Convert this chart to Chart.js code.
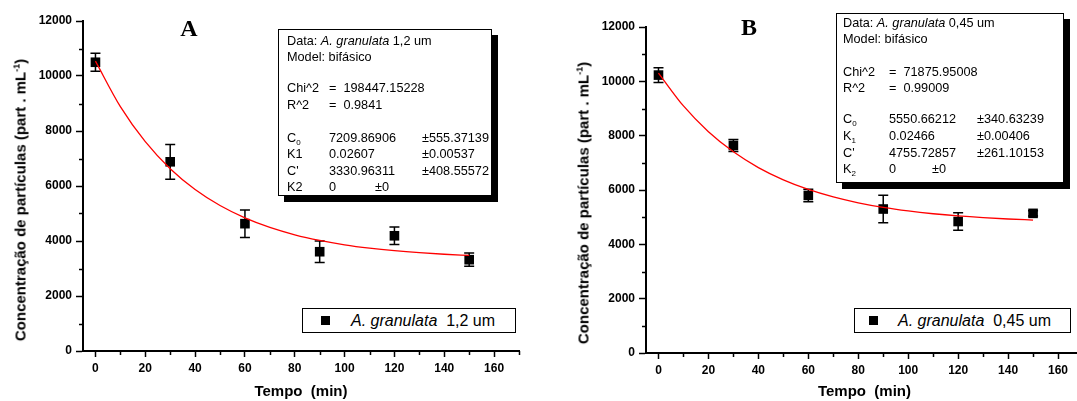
<!DOCTYPE html>
<html><head><meta charset="utf-8">
<script src="https://cdn.jsdelivr.net/npm/chart.js@4.4.0/dist/chart.umd.min.js"></script>
<style>
html,body{margin:0;padding:0;background:#fff;}
#wrap{position:relative;width:1077px;height:401px;overflow:hidden;font-family:"Liberation Sans",Arial,sans-serif;color:#000;}
canvas{position:absolute;top:0;}
.box{position:absolute;background:#fff;border:1px solid #000;box-sizing:border-box;}
.shadow{box-shadow:6px 6px 0 #000;}
.t{position:absolute;font-size:12.7px;line-height:1;white-space:nowrap;transform:translateY(-50%);}
.lg{position:absolute;font-size:16px;line-height:1;white-space:nowrap;transform:translateY(-50%);}
.mk{position:absolute;width:9px;height:9px;background:#000;}
.letter{position:absolute;font-family:"Liberation Serif","Times New Roman",serif;font-weight:bold;font-size:24px;line-height:1;transform:translate(-50%,-50%);}
.ytitle{position:absolute;font-weight:bold;font-size:15px;line-height:1;white-space:nowrap;transform:translate(-50%,-50%) rotate(-90deg);}
sub{font-size:8px;vertical-align:-3px;line-height:0;}
sup{font-size:9px;vertical-align:6px;line-height:0;}
</style>
</head><body>
<div id="wrap">
<canvas id="cA" width="538" height="401" style="left:0;width:538px;height:401px"></canvas>
<canvas id="cB" width="560" height="401" style="left:538px;width:560px;height:401px"></canvas>
</div>
<script>
// ---------- data ----------
const times = [0, 30, 60, 90, 120, 150];
const valuesA = [10500, 6880, 4630, 3610, 4190, 3320];
const errorsA = [325, 630, 500, 390, 320, 240];
const valuesB = [10230, 7640, 5800, 5300, 4840, 5140];
const errorsB = [270, 220, 230, 510, 320, 100];
const fitTimes = [0, 10, 20, 30, 40, 50, 60, 70, 80, 90, 100, 110, 120, 130, 140, 150];
const fitA = [10541, 8886, 7611, 6629, 5872, 5289, 4840, 4493, 4226, 4021, 3862, 3741, 3647, 3574, 3518, 3475];
const fitB = [10306, 9094, 8146, 7405, 6826, 6374, 6020, 5744, 5528, 5359, 5228, 5125, 5044, 4981, 4932, 4894];
const xTicks = [0, 20, 40, 60, 80, 100, 120, 140, 160];
const yTicks = [0, 2000, 4000, 6000, 8000, 10000, 12000];
const xMinorTicks = [10, 30, 50, 70, 90, 110, 130, 150, 170];
const yMinorTicks = [1000, 3000, 5000, 7000, 9000, 11000];
const xTitle = 'Tempo  (min)';
const yTitle = 'Concentração de partículas  (part . mL<sup>-1</sup>)';
const legendA = ['A. granulata', '1,2 um'];
const legendB = ['A. granulata', '0,45 um'];

// ---------- plugin: error bars + minor ticks ----------
const extras = {
  id: 'extras',
  beforeDatasetsDraw(chart, args, o) {
    const {ctx, scales: {x, y}} = chart;
    ctx.save();
    ctx.strokeStyle = '#000';
    ctx.lineWidth = 1.5;
    o.vals.forEach((v, i) => {
      const px = x.getPixelForValue(o.times[i]);
      const t = y.getPixelForValue(v + o.errs[i]);
      const b = y.getPixelForValue(v - o.errs[i]);
      ctx.beginPath();
      ctx.moveTo(px, t); ctx.lineTo(px, b);
      ctx.moveTo(px - 5, t); ctx.lineTo(px + 5, t);
      ctx.moveTo(px - 5, b); ctx.lineTo(px + 5, b);
      ctx.stroke();
    });
    ctx.restore();
  },
  afterDraw(chart) {
    const {ctx, scales: {x, y}, chartArea} = chart;
    ctx.save();
    ctx.strokeStyle = '#000';
    ctx.lineWidth = 1.5;
    ctx.beginPath();
    yMinorTicks.forEach(v => {
      const py = Math.round(y.getPixelForValue(v)) + 0.5;
      ctx.moveTo(chartArea.left - 4, py); ctx.lineTo(chartArea.left, py);
    });
    xMinorTicks.forEach(v => {
      const px = Math.round(x.getPixelForValue(v)) + 0.5;
      ctx.moveTo(px, chartArea.bottom); ctx.lineTo(px, chartArea.bottom + 4);
    });
    ctx.stroke();
    ctx.restore();
  }
};

function makeChart(id, vals, errs, fit, pad, yWidth, xHeight) {
  const tickFont = {family: '"Liberation Sans", Arial, sans-serif', size: 12, weight: 'bold', lineHeight: 1.2};
  return new Chart(document.getElementById(id), {
    type: 'scatter',
    data: {
      datasets: [
        {
          data: times.map((t, i) => ({x: t, y: vals[i]})),
          pointStyle: 'rect', pointRadius: 6.8, pointHoverRadius: 6.8,
          backgroundColor: '#000', borderColor: '#000', borderWidth: 0, order: 2
        },
        {
          data: fitTimes.map((t, i) => ({x: t, y: fit[i]})),
          showLine: true, pointRadius: 0, borderColor: '#ff0000', borderWidth: 1.3,
          cubicInterpolationMode: 'monotone', fill: false, order: 1
        }
      ]
    },
    options: {
      responsive: false, animation: false, devicePixelRatio: 1,
      layout: {padding: pad},
      plugins: {legend: {display: false}, tooltip: {enabled: false},
        extras: {times: times, vals: vals, errs: errs}},
      scales: {
        x: {
          type: 'linear', min: -5, max: 170,
          afterBuildTicks: s => { s.ticks = xTicks.map(v => ({value: v})); },
          afterFit: s => { s.height = xHeight; },
          ticks: {font: tickFont, color: '#000', padding: 4, maxRotation: 0, callback: v => String(v)},
          grid: {drawOnChartArea: false, drawTicks: true, tickLength: 6, tickWidth: 1.5, tickColor: '#000', color: '#000'},
          border: {display: true, color: '#000', width: 2},
          title: {display: true, text: xTitle, color: '#000',
            font: {family: '"Liberation Sans", Arial, sans-serif', size: 15, weight: 'bold', lineHeight: 1.2},
            padding: {top: 0, bottom: 0}}
        },
        y: {
          type: 'linear', min: 0, max: 12000,
          afterBuildTicks: s => { s.ticks = yTicks.map(v => ({value: v})); },
          afterFit: s => { s.width = yWidth; },
          ticks: {font: tickFont, color: '#000', padding: 4, callback: v => String(v)},
          grid: {drawOnChartArea: false, drawTicks: true, tickLength: 7, tickWidth: 1.5, tickColor: '#000', color: '#000'},
          border: {display: true, color: '#000', width: 2}
        }
      }
    },
    plugins: [extras]
  });
}

makeChart('cA', valuesA, errorsA, fitA, {left: 0, right: 19, top: 21, bottom: 0}, 83, 50);
makeChart('cB', valuesB, errorsB, fitB, {left: 0, right: 15, top: 27, bottom: 0}, 108, 48);

// ---------- HTML annotations ----------
const wrap = document.getElementById('wrap');
function el(cls, css, html) {
  const d = document.createElement('div');
  d.className = cls;
  Object.assign(d.style, css);
  d.innerHTML = html;
  wrap.appendChild(d);
  return d;
}
function px(v) { return v + 'px'; }

// panel letters
el('letter', {left: px(189), top: px(28)}, 'A');
el('letter', {left: px(749), top: px(27)}, 'B');
// y titles
el('ytitle', {left: px(19.5), top: px(200)}, yTitle);
el('ytitle', {left: px(583), top: px(203)}, yTitle);

// fit info boxes
function infoBox(b, cols, rows) {
  el('box shadow', {left: px(b[0]), top: px(b[1]), width: px(b[2] - b[0]), height: px(b[3] - b[1])}, '');
  rows.forEach(r => {
    r.cells.forEach((c, k) => {
      if (c !== null && c !== '') el('t', {left: px(cols[k]), top: px(r.y)}, c);
    });
  });
}
infoBox([278, 29, 492, 196], [287, 329, 375, 422], [
  {y: 40.7, cells: ['Data: <i>A. granulata</i> 1,2 um']},
  {y: 56.7, cells: ['Model: bifásico']},
  {y: 88.3, cells: ['Chi^2', '= &nbsp;198447.15228']},
  {y: 105.2, cells: ['R^2', '= &nbsp;0.9841']},
  {y: 137.5, cells: ['C<sub>0</sub>', '7209.86906', null, '±555.37139']},
  {y: 154, cells: ['K1', '0.02607', null, '±0.00537']},
  {y: 170.5, cells: ["C'", '3330.96311', null, '±408.55572']},
  {y: 186.7, cells: ['K2', '0', '±0']}
]);
infoBox([835.5, 12.7, 1064, 183], [843, 889, 932, 977], [
  {y: 23.3, cells: ['Data: <i>A. granulata</i> 0,45 um']},
  {y: 39.3, cells: ['Model: bifásico']},
  {y: 71.7, cells: ['Chi^2', '= &nbsp;71875.95008']},
  {y: 87.7, cells: ['R^2', '= &nbsp;0.99009']},
  {y: 119, cells: ['C<sub>0</sub>', '5550.66212', null, '±340.63239']},
  {y: 135.5, cells: ['K<sub>1</sub>', '0.02466', null, '±0.00406']},
  {y: 152.5, cells: ["C'", '4755.72857', null, '±261.10153']},
  {y: 168.8, cells: ['K<sub>2</sub>', '0', '±0']}
]);

// legends
function legendBox(b, mx, tx, lbl) {
  el('box', {left: px(b[0]), top: px(b[1]), width: px(b[2] - b[0]), height: px(b[3] - b[1])}, '');
  const cy = (b[1] + b[3]) / 2;
  el('mk', {left: px(mx - 4.5), top: px(cy - 4.5)}, '');
  el('lg', {left: px(tx), top: px(cy)}, '<i>' + lbl[0] + '</i>&nbsp; ' + lbl[1]);
}
legendBox([302, 308, 516, 333], 325, 351, legendA);
legendBox([854, 308, 1071, 333], 873, 898, legendB);
</script>
</body></html>
